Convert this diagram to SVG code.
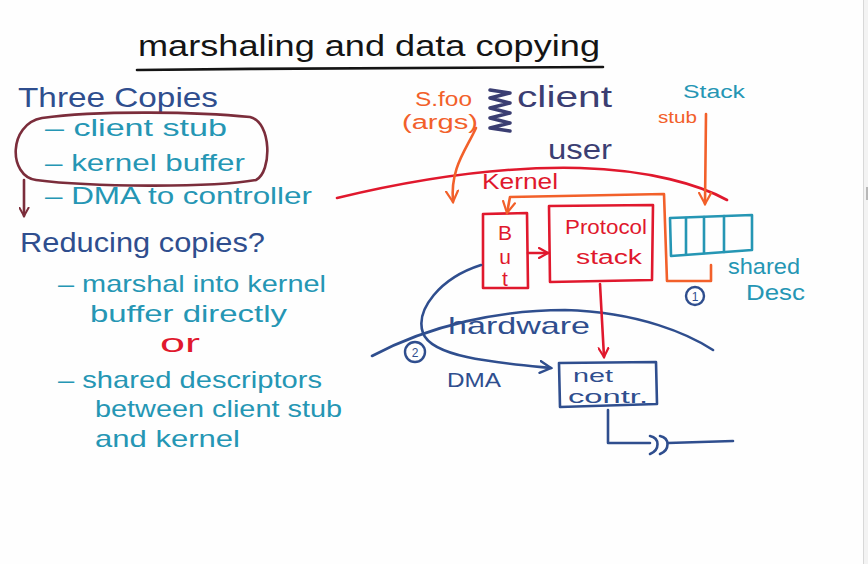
<svg xmlns="http://www.w3.org/2000/svg" width="868" height="564" viewBox="0 0 868 564">
<defs>
<style>
.t{font-family:"Liberation Sans","DejaVu Sans",sans-serif;}
.ln{fill:none;stroke-linecap:round;stroke-linejoin:round;stroke-width:2.6;}
.blk{fill:#141414}.dblue{fill:#2f4e8e}.teal{fill:#2596b4}.red{fill:#e0182d}.org{fill:#f2602a}.navy{fill:#3b3e72}
</style>
<marker id="mRed" viewBox="0 0 12 12" refX="10" refY="6" markerWidth="12" markerHeight="12" markerUnits="userSpaceOnUse" orient="auto"><path d="M1,1 L10,6 L1,11" fill="none" stroke="#e0182d" stroke-width="2.2" stroke-linecap="round"/></marker>
<marker id="mOrg" viewBox="0 0 14 14" refX="12" refY="7" markerWidth="14" markerHeight="14" markerUnits="userSpaceOnUse" orient="auto"><path d="M1,1 L12,7 L1,13" fill="none" stroke="#f2602a" stroke-width="2.2" stroke-linecap="round"/></marker>
<marker id="mBlue" viewBox="0 0 14 14" refX="12" refY="7" markerWidth="14" markerHeight="14" markerUnits="userSpaceOnUse" orient="auto"><path d="M1,1 L12,7 L1,13" fill="none" stroke="#2f4e8e" stroke-width="2.4" stroke-linecap="round"/></marker>
<marker id="mMar" viewBox="0 0 12 12" refX="10" refY="6" markerWidth="11" markerHeight="11" markerUnits="userSpaceOnUse" orient="auto"><path d="M1,1 L10,6 L1,11" fill="none" stroke="#7b2d3b" stroke-width="2.2" stroke-linecap="round"/></marker>
</defs>
<rect x="0" y="0" width="868" height="564" fill="#fefefe"/>
<rect x="864" y="0" width="4" height="564" fill="#f3f3f3"/>
<line x1="863.5" y1="0" x2="863.5" y2="564" stroke="#d8d8d8" stroke-width="1"/>
<rect x="866" y="187" width="2" height="13" fill="#b8b8b8"/>

<g id="title">
<text class="t blk" x="138" y="56" font-size="30" textLength="462" lengthAdjust="spacingAndGlyphs">marshaling and data copying</text>
<path class="ln" d="M137,70 C300,68 480,68 603,67" stroke="#141414" stroke-width="3.2"/>
</g>

<g id="three-copies">
<text class="t dblue" x="18" y="107" font-size="28" textLength="200" lengthAdjust="spacingAndGlyphs">Three Copies</text>
<text class="t teal" x="45" y="136" font-size="24" textLength="182" lengthAdjust="spacingAndGlyphs">– client stub</text>
<text class="t teal" x="45" y="171" font-size="24" textLength="200" lengthAdjust="spacingAndGlyphs">– kernel buffer</text>
<text class="t teal" x="45" y="204" font-size="24" textLength="267" lengthAdjust="spacingAndGlyphs">– DMA to controller</text>
<path class="ln" d="M42,118 C100,110 200,112 250,117 C272,122 272,172 256,180 C210,188 90,187 36,180 C8,176 8,124 42,118 Z" stroke="#7b2d3b"/>
</g>

<g id="reducing-copies">
<text class="t dblue" x="20" y="252" font-size="28" textLength="245" lengthAdjust="spacingAndGlyphs">Reducing copies?</text>
<text class="t teal" x="58" y="292" font-size="24" textLength="268" lengthAdjust="spacingAndGlyphs">– marshal into kernel</text>
<text class="t teal" x="90" y="322" font-size="24" textLength="197" lengthAdjust="spacingAndGlyphs">buffer directly</text>
<text class="t red" x="160" y="352" font-size="26" textLength="40" lengthAdjust="spacingAndGlyphs">or</text>
<text class="t teal" x="58" y="388" font-size="24" textLength="264" lengthAdjust="spacingAndGlyphs">– shared descriptors</text>
<text class="t teal" x="95" y="417" font-size="24" textLength="247" lengthAdjust="spacingAndGlyphs">between client stub</text>
<text class="t teal" x="95" y="447" font-size="24" textLength="145" lengthAdjust="spacingAndGlyphs">and kernel</text>
</g>

<g id="client">
<text class="t org" x="415" y="106" font-size="20" textLength="57" lengthAdjust="spacingAndGlyphs">S.foo</text>
<text class="t org" x="402" y="129" font-size="20" textLength="76" lengthAdjust="spacingAndGlyphs">(args)</text>
<polyline points="490,90 510,93 490,98 510,103 490,108 510,113 490,118 510,123 490,128 510,131" fill="none" stroke="#3b3e72" stroke-width="3.5" stroke-linejoin="round" stroke-linecap="round"/>
<text class="t navy" x="517" y="107" font-size="30" textLength="95" lengthAdjust="spacingAndGlyphs">client</text>
<text class="t navy" x="548" y="159" font-size="28" textLength="64" lengthAdjust="spacingAndGlyphs">user</text>
</g>

<g id="kernel-boundary">
<path class="ln" d="M337,198 C420,178 500,166 580,168 C650,170 700,185 727,200" stroke="#e0182d"/>
<text class="t red" x="482" y="189" font-size="22" textLength="76" lengthAdjust="spacingAndGlyphs">Kernel</text>
</g>

<g id="stack-stub">
<text class="t teal" x="683" y="98" font-size="18" textLength="62" lengthAdjust="spacingAndGlyphs">Stack</text>
<text class="t org" x="658" y="123" font-size="17" textLength="39" lengthAdjust="spacingAndGlyphs">stub</text>
</g>

<g id="buf">
<path class="ln" d="M483,214 L527,213 L528,288 L483,288 Z" stroke="#e0182d"/>
<text class="t red" x="505" y="240" font-size="21" text-anchor="middle">B</text>
<text class="t red" x="505" y="264" font-size="21" text-anchor="middle">u</text>
<text class="t red" x="505" y="286" font-size="21" text-anchor="middle">t</text>
</g>

<g id="protocol-stack">
<path class="ln" d="M549,206 L653,205 L652,280 L550,282 Z" stroke="#e0182d"/>
<text class="t red" x="565" y="234" font-size="20" textLength="82" lengthAdjust="spacingAndGlyphs">Protocol</text>
<text class="t red" x="576" y="264" font-size="20" textLength="66" lengthAdjust="spacingAndGlyphs">stack</text>
</g>

<g id="shared-desc">
<path class="ln" d="M670,218 L752,215 L752,250 L671,256 Z" stroke="#2596b4"/>
<line class="ln" x1="686" y1="218" x2="686" y2="254" stroke="#2596b4"/>
<line class="ln" x1="704" y1="217" x2="704" y2="253" stroke="#2596b4"/>
<line class="ln" x1="724" y1="216" x2="724" y2="252" stroke="#2596b4"/>
<text class="t teal" x="728" y="274" font-size="22" textLength="72" lengthAdjust="spacingAndGlyphs">shared</text>
<text class="t teal" x="746" y="300" font-size="22" textLength="59" lengthAdjust="spacingAndGlyphs">Desc</text>
</g>

<g id="hardware-boundary">
<path class="ln" d="M372,356 C430,325 500,310 565,310 C640,312 690,335 713,350" stroke="#2f4e8e"/>
<text class="t dblue" x="448" y="334" font-size="24" textLength="142" lengthAdjust="spacingAndGlyphs">hardware</text>
</g>

<g id="net-controller">
<path class="ln" d="M559,363 L656,362 L657,404 L560,407 Z" stroke="#2f4e8e"/>
<text class="t dblue" x="573" y="382" font-size="19" textLength="40" lengthAdjust="spacingAndGlyphs">net</text>
<text class="t dblue" x="568" y="403" font-size="19" textLength="80" lengthAdjust="spacingAndGlyphs">contr.</text>
</g>

<g id="markers">
<circle cx="695" cy="296" r="9" fill="none" stroke="#2f4e8e" stroke-width="2.4"/>
<text class="t dblue" x="695" y="301" font-size="12" text-anchor="middle">1</text>
<circle cx="415" cy="352" r="10" fill="none" stroke="#2f4e8e" stroke-width="2.4"/>
<text class="t dblue" x="415" y="357" font-size="12" text-anchor="middle">2</text>
<text class="t dblue" x="447" y="387" font-size="20" textLength="54" lengthAdjust="spacingAndGlyphs">DMA</text>
</g>

<g id="connectors">
<path class="ln" d="M24,180 L24,216" stroke="#7b2d3b" marker-end="url(#mMar)"/>
<path class="ln" d="M476,128 C466,150 450,168 453,202" stroke="#f2602a" marker-end="url(#mOrg)"/>
<path class="ln" d="M706,114 L705,204" stroke="#f2602a" marker-end="url(#mOrg)"/>
<path class="ln" d="M711,265 L711,281 L667,281 L664,194 L510,197 L507,213" stroke="#f2602a" marker-end="url(#mOrg)"/>
<path class="ln" d="M528,253 L548,253" stroke="#e0182d" marker-end="url(#mRed)"/>
<path class="ln" d="M600,284 L604,357" stroke="#e0182d" marker-end="url(#mRed)"/>
<path class="ln" d="M481,265 C440,278 415,310 423,333 C432,358 500,363 551,368" stroke="#2f4e8e" marker-end="url(#mBlue)"/>
<path class="ln" d="M608,410 L608,443 L650,443 M650,436 C660,438 660,450 650,454 M660,436 C670,438 670,450 660,454 M668,443 L733,441" stroke="#2f4e8e"/>
</g>
</svg>
